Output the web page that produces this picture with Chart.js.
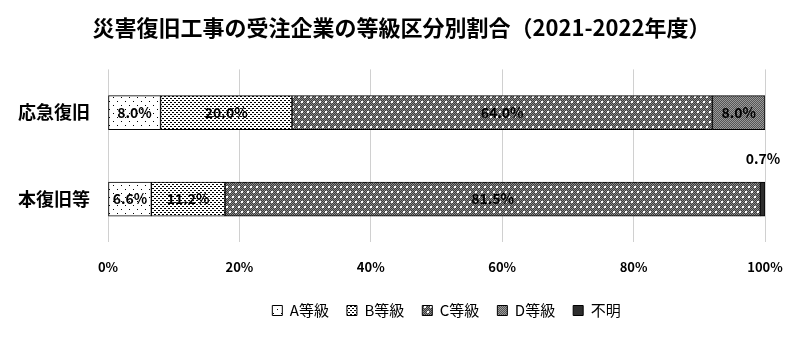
<!DOCTYPE html>
<html>
<head>
<meta charset="utf-8">
<script src="https://cdn.jsdelivr.net/npm/chart.js@4"></script>
<style>
  html, body { margin: 0; padding: 0; background: #fff; }
  #wrap { width: 800px; height: 351px; }
</style>
</head>
<body>
<div id="wrap"><canvas id="chart"></canvas></div>
<script>
// categories and series (percent)
const categories = ['応急復旧', '本復旧等'];
const seriesNames = ['A等級', 'B等級', 'C等級', 'D等級', '不明'];
const gradeA = [8.0, 6.6];
const gradeB = [20.0, 11.2];
const gradeC = [64.0, 81.5];
const gradeD = [8.0, 0];
const unknown = [0, 0.7];
const tickValues = [0, 20, 40, 60, 80, 100];

const FONT = '"Noto Sans CJK JP", "Liberation Sans", sans-serif';

// small tile patterns like the hatch fills of the original
function makePattern(w, h, draw) {
  const c = document.createElement('canvas');
  c.width = w; c.height = h;
  const ctx = c.getContext('2d');
  draw(ctx);
  return document.getElementById('chart').getContext('2d').createPattern(c, 'repeat');
}
function checker(ctx, w, h, c1, c2) {
  for (let y = 0; y < h; y++) {
    for (let x = 0; x < w; x++) {
      ctx.fillStyle = (x + y) % 2 ? c1 : c2;
      ctx.fillRect(x, y, 1, 1);
    }
  }
}

const patA = makePattern(8, 8, ctx => {
  ctx.fillStyle = '#fff'; ctx.fillRect(0, 0, 8, 8);
  ctx.fillStyle = '#000';
  ctx.fillRect(1, 1, 1, 1); ctx.fillRect(5, 5, 1, 1);
});
const patB = makePattern(4, 4, ctx => {
  ctx.fillStyle = '#fff'; ctx.fillRect(0, 0, 4, 4);
  ctx.fillStyle = '#000';
  ctx.fillRect(0, 0, 2, 1); ctx.fillRect(2, 2, 2, 1);
});
const patC = makePattern(6, 10, ctx => {
  checker(ctx, 6, 10, '#3c3c3c', '#8c8c8c');
  ctx.fillStyle = '#fff';
  ctx.fillRect(1, 1, 2, 2); ctx.fillRect(4, 6, 2, 2);
});
const patD = makePattern(4, 4, ctx => {
  checker(ctx, 4, 4, '#555', '#9a9a9a');
});
const patE = '#2e2e2e';

const fills = [patA, patB, patC, patD, patE];
const seriesData = [gradeA, gradeB, gradeC, gradeD, unknown];

const datasets = seriesNames.map((name, i) => ({
  label: name,
  data: seriesData[i],
  backgroundColor: fills[i],
  borderColor: '#000',
  borderWidth: 1,
  borderSkipped: false,
  barThickness: 34
}));

// value labels inside segments, tiny ones above the bar
const valueLabels = {
  id: 'valueLabels',
  afterDatasetsDraw(chart) {
    const ctx = chart.ctx;
    ctx.save();
    ctx.font = 'bold 14px ' + FONT;
    ctx.fillStyle = '#000';
    ctx.textAlign = 'center';
    ctx.textBaseline = 'middle';
    chart.data.datasets.forEach((ds, di) => {
      chart.getDatasetMeta(di).data.forEach((bar, i) => {
        const v = ds.data[i];
        if (!v) return;
        const txt = v.toFixed(1) + '%';
        if (v < 2) {
          ctx.fillText(txt, bar.x - 2, bar.y - 40);
        } else {
          ctx.fillText(txt, (bar.x + bar.base) / 2, bar.y);
        }
      });
    });
    ctx.restore();
  }
};

// the legend and title in the original sit right of the padded centre
const boxShift = {
  id: 'boxShift',
  afterLayout(chart) {
    chart.legend.left += 64;
    chart.legend.right += 64;
    chart.legend.top -= 7;
    chart.legend.bottom -= 7;
    chart.titleBlock.left += 19;
    chart.titleBlock.right += 19;
  }
};

new Chart(document.getElementById('chart'), {
  type: 'bar',
  data: { labels: categories, datasets: datasets },
  plugins: [valueLabels, boxShift],
  options: {
    indexAxis: 'y',
    responsive: true,
    maintainAspectRatio: false,
    animation: false,
    layout: { padding: { left: 0, right: 35, top: 6, bottom: 16 } },
    scales: {
      x: {
        stacked: true,
        min: 0,
        max: 100,
        afterBuildTicks: s => { s.ticks = tickValues.map(v => ({ value: v })); },
        grid: { color: '#d0d0d0', drawTicks: false },
        border: { display: false },
        ticks: {
          padding: 17,
          color: '#000',
          font: { family: FONT, size: 13, weight: 'bold' },
          callback: v => v + '%'
        }
      },
      y: {
        stacked: true,
        grid: { display: false },
        border: { display: false },
        afterFit: s => { s.width = 108; },
        ticks: {
          padding: 10,
          color: '#000',
          font: { family: FONT, size: 18, weight: 'bold' }
        }
      }
    },
    plugins: {
      title: {
        display: true,
        text: '災害復旧工事の受注企業の等級区分別割合（2021-2022年度）',
        color: '#000',
        font: { family: FONT, size: 22, weight: 'bold' },
        padding: { top: 8, bottom: 29 }
      },
      legend: {
        position: 'bottom',
        labels: {
          color: '#000',
          boxWidth: 10,
          boxHeight: 10,
          padding: 18,
          font: { family: FONT, size: 15 }
        }
      },
      tooltip: { enabled: false }
    }
  }
});
</script>
</body>
</html>
